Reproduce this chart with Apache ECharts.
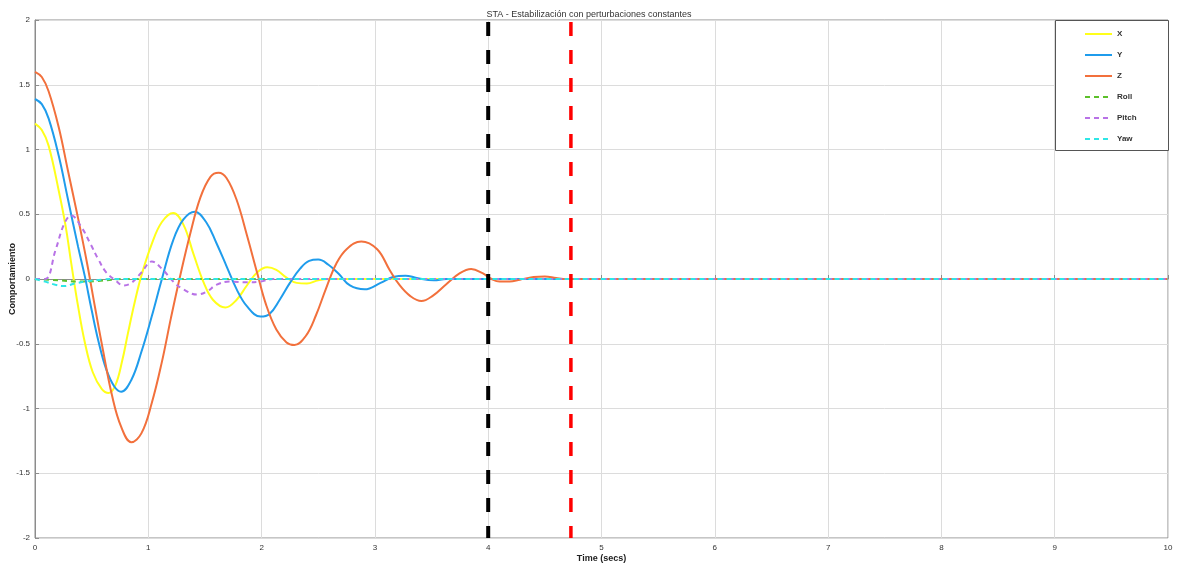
<!DOCTYPE html>
<html><head><meta charset="utf-8">
<script src="https://cdn.jsdelivr.net/npm/echarts@6/dist/echarts.min.js"></script>
<style>html,body{margin:0;padding:0;background:#fff}#c{width:1178px;height:568px}</style>
</head><body><div id="c"></div>
<script>
const titleText = 'STA - Estabilización con perturbaciones constantes';
const xTicks = [0,1,2,3,4,5,6,7,8,9,10];
const yTicks = [-2,-1.5,-1,-0.5,0,0.5,1,1.5,2];
const seriesNames = ['X','Y','Z','Roll','Pitch','Yaw'];
const dataX = [[0,1.2],[0.06,1.15],[0.12,1.03],[0.21,0.68],[0.27,0.41],[0.32,0.12],[0.38,-0.21],[0.44,-0.49],[0.51,-0.72],[0.59,-0.85],[0.65,-0.88],[0.71,-0.82],[0.77,-0.63],[0.82,-0.42],[0.88,-0.18],[0.94,0.03],[1.03,0.27],[1.12,0.44],[1.22,0.51],[1.31,0.42],[1.4,0.19],[1.49,-0.03],[1.57,-0.16],[1.68,-0.22],[1.78,-0.16],[1.87,-0.05],[1.96,0.05],[2.05,0.09],[2.13,0.07],[2.22,0.01],[2.31,-0.03],[2.4,-0.035],[2.5,-0.01],[2.6,0],[10,0]];
const dataY = [[0,1.39],[0.06,1.35],[0.12,1.24],[0.21,0.95],[0.29,0.62],[0.38,0.25],[0.44,0.02],[0.5,-0.24],[0.56,-0.48],[0.63,-0.7],[0.7,-0.83],[0.76,-0.87],[0.85,-0.78],[0.94,-0.56],[1.03,-0.29],[1.12,0],[1.22,0.3],[1.31,0.46],[1.41,0.52],[1.51,0.44],[1.6,0.28],[1.69,0.1],[1.78,-0.08],[1.87,-0.21],[1.99,-0.29],[2.07,-0.27],[2.16,-0.16],[2.25,-0.03],[2.34,0.08],[2.42,0.14],[2.5,0.15],[2.59,0.11],[2.68,0.04],[2.78,-0.05],[2.91,-0.08],[3.05,-0.03],[3.16,0.015],[3.27,0.026],[3.37,0.008],[3.52,-0.01],[3.63,0],[10,0]];
const dataZ = [[0,1.6],[0.06,1.56],[0.12,1.45],[0.21,1.17],[0.29,0.84],[0.38,0.47],[0.46,0.12],[0.53,-0.22],[0.6,-0.55],[0.68,-0.9],[0.76,-1.14],[0.85,-1.26],[0.94,-1.19],[1.03,-0.96],[1.12,-0.64],[1.2,-0.3],[1.28,0.02],[1.37,0.35],[1.46,0.63],[1.55,0.79],[1.62,0.82],[1.69,0.78],[1.78,0.61],[1.87,0.34],[1.96,0.05],[2.04,-0.2],[2.13,-0.39],[2.22,-0.49],[2.29,-0.51],[2.39,-0.44],[2.48,-0.28],[2.57,-0.07],[2.66,0.12],[2.75,0.23],[2.88,0.29],[3.02,0.23],[3.13,0.07],[3.22,-0.05],[3.31,-0.13],[3.41,-0.17],[3.51,-0.13],[3.63,-0.04],[3.75,0.045],[3.85,0.077],[3.95,0.045],[4.03,0],[4.1,-0.02],[4.19,-0.02],[4.28,-0.005],[4.4,0.015],[4.5,0.02],[4.6,0.008],[4.69,0],[10,0]];
const dataRoll = [[0,0],[0.2,-0.01],[0.4,-0.02],[0.55,-0.015],[0.8,0],[10,0]];
const dataPitch = [[0,0],[0.09,0],[0.18,0.22],[0.26,0.43],[0.32,0.49],[0.41,0.4],[0.49,0.27],[0.56,0.15],[0.63,0.05],[0.71,-0.01],[0.78,-0.05],[0.85,-0.03],[0.94,0.05],[1.03,0.135],[1.13,0.07],[1.22,-0.02],[1.31,-0.08],[1.43,-0.12],[1.52,-0.095],[1.6,-0.045],[1.72,-0.02],[1.87,-0.025],[1.99,-0.02],[2.1,0],[10,0]];
const dataYaw = [[0,0],[0.09,-0.02],[0.18,-0.045],[0.26,-0.055],[0.35,-0.035],[0.44,-0.02],[0.59,-0.005],[0.7,0],[10,0]];
const markBlack = 4.0;
const markRed = 4.73;

const colors = ['#ffff1a','#1f9cec','#f2703c','#5cc02a','#b872e6','#2ee6e6'];
const dashes = [null,null,null,[5,4],[5,4],[5,4]];
const datas = [dataX,dataY,dataZ,dataRoll,dataPitch,dataYaw];

const chart = echarts.init(document.getElementById('c'));
const series = seriesNames.map((n,i)=>({
  name:n,type:'line',data:datas[i],smooth:0.4,symbol:'none',showSymbol:false,
  lineStyle:{color:colors[i],width:2,type:dashes[i]||'solid'},itemStyle:{color:colors[i]},
  z:3
}));
series.push({type:'line',data:[[markBlack,2],[markBlack,-2]],symbol:'none',silent:true,
  lineStyle:{color:'#000',width:4,type:[14,14],dashOffset:-2},z:5});
series.push({type:'line',data:[[markRed,2],[markRed,-2]],symbol:'none',silent:true,
  lineStyle:{color:'#ff0000',width:3.5,type:[14,14],dashOffset:-2},z:5});

chart.setOption({
  animation:false,
  title:{text:titleText,left:'center',top:5,textStyle:{fontSize:9,fontWeight:'normal',color:'#333',fontFamily:'Liberation Sans'}},
  grid:{left:35,right:10,top:20,bottom:30,show:true,borderColor:'#8c8c8c',borderWidth:1,containLabel:false,outerBoundsMode:'none'},
  legend:{data:seriesNames,orient:'vertical',left:1079,top:25,itemWidth:27,itemHeight:8,itemGap:13,z:20,
    itemStyle:{opacity:0,borderWidth:0},
    textStyle:{fontSize:8,fontWeight:'bold',color:'#333',fontFamily:'Liberation Sans'}},
  graphic:[{type:'rect',left:1055,top:20,z:1,shape:{width:113,height:130},style:{fill:'#fff',stroke:'#555',lineWidth:1}}],
  xAxis:{type:'value',min:0,max:10,interval:1,name:'Time (secs)',nameLocation:'middle',nameGap:16,nameMoveOverlap:false,
    nameTextStyle:{fontSize:9,fontWeight:'bold',color:'#222',fontFamily:'Liberation Sans'},
    axisLine:{lineStyle:{color:'#8c8c8c'}},axisTick:{inside:true,length:4,lineStyle:{color:'#8c8c8c'}},
    axisLabel:{fontSize:8,color:'#333',margin:6,fontFamily:'Liberation Sans'},
    splitLine:{lineStyle:{color:'#dcdcdc'}}},
  yAxis:{type:'value',min:-2,max:2,interval:0.5,name:'Comportamiento',nameLocation:'middle',nameGap:18,nameMoveOverlap:false,
    nameTextStyle:{fontSize:9,fontWeight:'bold',color:'#222',fontFamily:'Liberation Sans'},
    axisLine:{lineStyle:{color:'#8c8c8c'}},axisTick:{inside:true,length:4,lineStyle:{color:'#8c8c8c'}},
    axisLabel:{fontSize:8,color:'#333',margin:5,fontFamily:'Liberation Sans'},
    splitLine:{lineStyle:{color:'#dcdcdc'}}},
  series:series
});
</script></body></html>
